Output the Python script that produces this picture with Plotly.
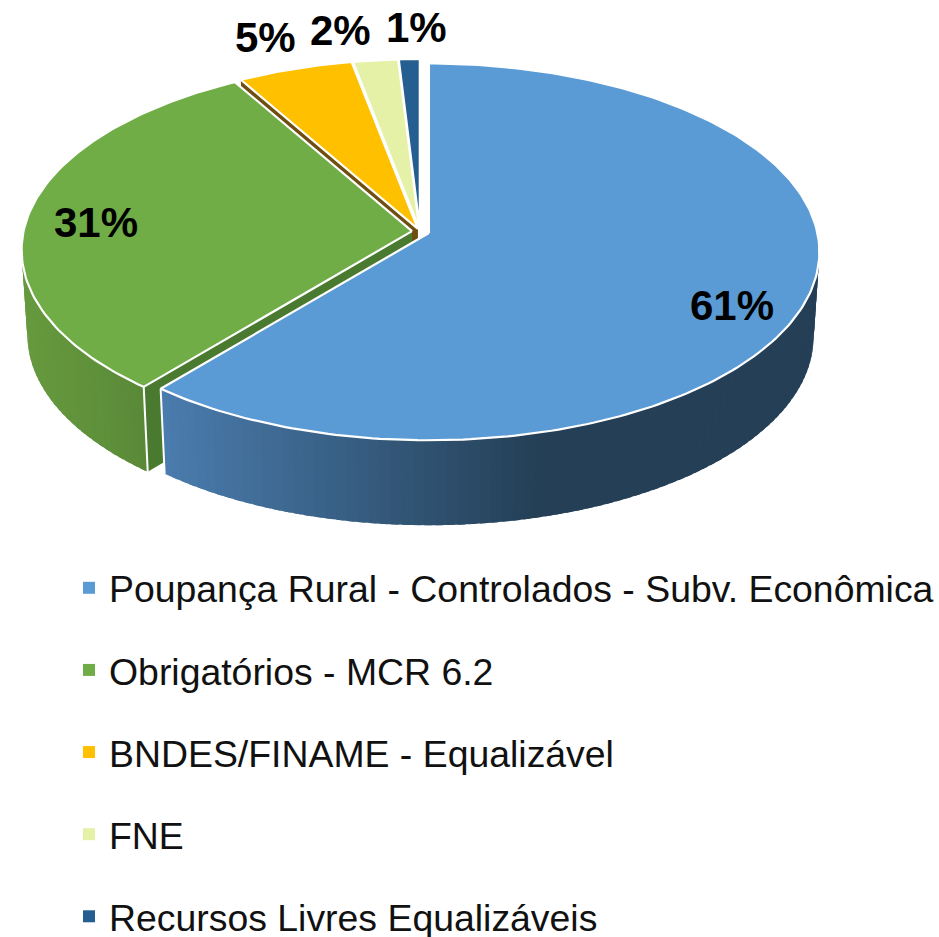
import math
import plotly.graph_objects as go

# ---- data ----
CATEGORIES = [
    "Poupança Rural - Controlados - Subv. Econômica",
    "Obrigatórios - MCR 6.2",
    "BNDES/FINAME - Equalizável",
    "FNE",
    "Recursos Livres Equalizáveis",
]
VALUES = [61.0, 30.75, 5.25, 2.05, 0.95]
LABELS = ["61%", "31%", "5%", "2%", "1%"]

# ---- styles ----
COLORS = ["#5B9BD5", "#70AD47", "#FFC000", "#E5F1A6", "#255E91"]
FACE_COLORS = [None, "#4A7A2F", "#6F4E0F", None, None]
EXPLODE = [9.5, 8.0, 6.0, 6.0, 6.0]
LABEL_XY = [(732, 305), (96, 222), (265, 37), (340, 30), (416, 27)]

# ---- projection of the tilted pie ----
BASE_X, BASE_Y = 420.0, 231.5
RX, RY, PERSP, DEPTH, SHRINK = 388.5, 186.5, 0.10, 85.0, 0.015


def unit(theta):
    t = math.radians(theta)
    return math.sin(t), -math.cos(t)


def centre(i, mid):
    ux, uy = unit(mid)
    return BASE_X + EXPLODE[i] * ux, BASE_Y + EXPLODE[i] * uy * RY / RX


def project(c, theta, z=0.0, r=1.0):
    ux, uy = unit(theta)
    ux, uy = ux * r, uy * r
    s = 1.0 / (1.0 - PERSP * uy)
    return (c[0] + RX * (1 - SHRINK * z) * ux * s, c[1] + DEPTH * z + RY * uy * s)


def mix(c1, c2, f):
    f = max(0.0, min(1.0, f))
    a = [int(c1[j:j + 2], 16) for j in (1, 3, 5)]
    b = [int(c2[j:j + 2], 16) for j in (1, 3, 5)]
    return "#%02x%02x%02x" % tuple(round(p + (q - p) * f) for p, q in zip(a, b))


total = sum(VALUES)
starts, ends, acc = [], [], 0.0
for v in VALUES:
    starts.append(acc * 360 / total)
    acc += v
    ends.append(acc * 360 / total)
mids = [(s + e) / 2 for s, e in zip(starts, ends)]
cents = [centre(i, mids[i]) for i in range(len(VALUES))]

fig = go.Figure()


def poly(pts, fill, line=None, width=0.0):
    fig.add_trace(go.Scatter(
        x=[p[0] for p in pts] + [pts[0][0]],
        y=[p[1] for p in pts] + [pts[0][1]],
        mode="lines", fill="toself", fillcolor=fill,
        line=dict(color=line or fill, width=width),
        hoverinfo="skip", showlegend=False))


def top(i):
    c = cents[i]
    n = max(4, int((ends[i] - starts[i]) / 1.0))
    arc = [project(c, starts[i] + (ends[i] - starts[i]) * j / n) for j in range(n + 1)]
    poly([project(c, 0, 0, 0)] + arc, COLORS[i], "#FFFFFF", 2.2)


def face(i):
    c = cents[i]
    poly([project(c, 0, 0, 0), project(c, starts[i], 0), project(c, starts[i], 1), project(c, 0, 1, 0)],
         FACE_COLORS[i])


def side(i, t0, t1, x0, c0, x1, c1):
    # painted from the far end back, each band overlapping the previous one so no seams show
    c = cents[i]
    t = t1
    step = 1.5
    while t > t0:
        ta = max(t - step, t0)
        tb = min(t + 0.0, t1)
        pts = [project(c, ta, 0), project(c, tb, 0), project(c, tb, 1), project(c, ta, 1)]
        xm = sum(p[0] for p in pts) / 4
        col = mix(c0, c1, (xm - x0) / (x1 - x0))
        # extend the band over its neighbour
        tc = max(ta - 1.0, t0)
        pts = [project(c, tc, 0), project(c, tb, 0), project(c, tb, 1), project(c, tc, 1)]
        poly(pts, col)
        t = ta


def edge(i, theta):
    c = cents[i]
    a, b = project(c, theta, 0), project(c, theta, 1)
    fig.add_trace(go.Scatter(x=[a[0], b[0]], y=[a[1], b[1]], mode="lines",
                             line=dict(color="#FFFFFF", width=2),
                             hoverinfo="skip", showlegend=False))


# back to front
face(2)
top(2)
top(3)
top(4)
face(1)
side(1, starts[1], 290, 30, "#66993E", 145, "#5A8A38")
edge(1, starts[1])
top(1)
side(0, 60, ends[0], 165, "#4A7CAD", 540, "#243F56")
edge(0, ends[0])
top(0)

# legend entries
for name, col in zip(CATEGORIES, COLORS):
    fig.add_trace(go.Scatter(x=[None], y=[None], mode="markers", name=name, legendgroup=name,
                             marker=dict(symbol="square", size=14, color=col)))

for txt, (x, y) in zip(LABELS, LABEL_XY):
    fig.add_annotation(x=x, y=y, text=f"<b>{txt}</b>", showarrow=False,
                       font=dict(family="Liberation Sans, Arial, sans-serif", size=42, color="#000000"))

fig.update_layout(
    width=939, height=937, margin=dict(l=0, r=0, t=0, b=0, autoexpand=False),
    paper_bgcolor="#FFFFFF", plot_bgcolor="#FFFFFF",
    font=dict(family="Liberation Sans, Arial, sans-serif", color="#111111"),
    xaxis=dict(range=[0, 939], visible=False, fixedrange=True),
    yaxis=dict(range=[937, 0], visible=False, fixedrange=True),
    legend=dict(x=69 / 939, y=1 - 557 / 937, xanchor="left", yanchor="top",
                font=dict(size=37.4, color="#111111"), tracegroupgap=30.5,
                bgcolor="rgba(0,0,0,0)", traceorder="grouped",
                itemsizing="constant"),
)
fig.write_html("out.html", config={"displayModeBar": False},
               post_script="document.body.style.margin='0';document.documentElement.style.overflow='hidden';")
